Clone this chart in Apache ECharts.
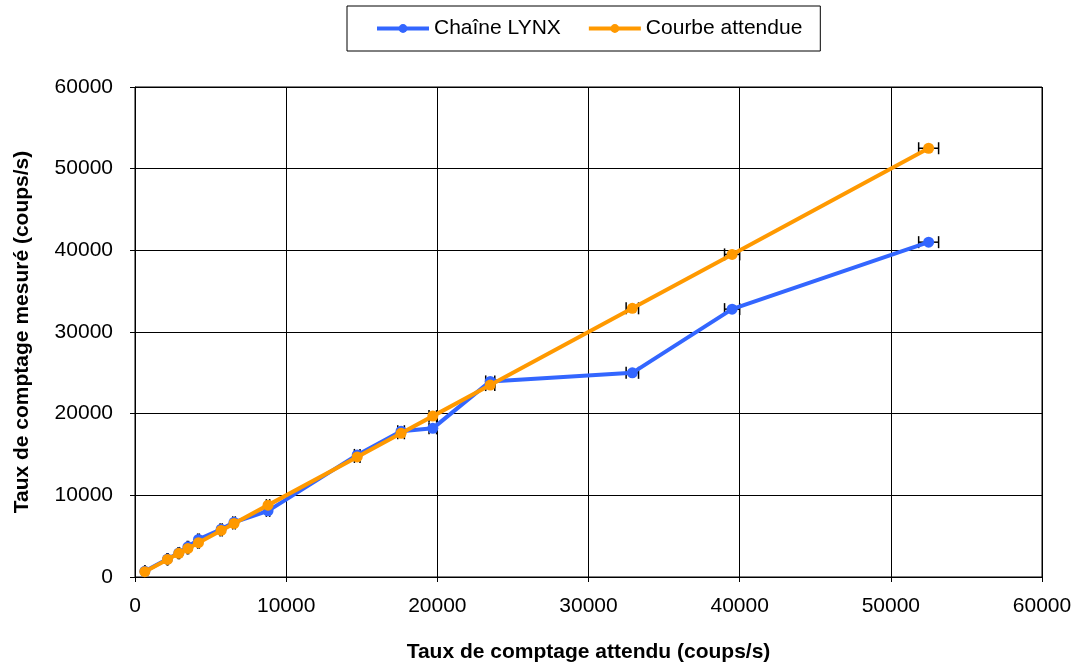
<!DOCTYPE html>
<html>
<head>
<meta charset="utf-8">
<script src="https://cdn.jsdelivr.net/npm/echarts@6/dist/echarts.min.js"></script>
<style>
html,body{margin:0;padding:0;background:#fff;}
#chart{width:1081px;height:666px;}
</style>
</head>
<body>
<div id="chart"></div>
<script>
// Expected count rate (x), shared by both series
const expectedRate = [650, 2150, 2900, 3500, 4200, 5700, 6550, 8800, 14700, 17600, 19700, 23500, 32900, 39500, 52500];
// Measured rates
const lynxRate = [700, 2200, 2950, 3700, 4600, 5850, 6700, 8100, 14950, 17850, 18200, 23950, 25000, 32800, 41000];
const expectedCurve = [650, 2150, 2900, 3500, 4200, 5700, 6550, 8800, 14700, 17600, 19700, 23500, 32900, 39500, 52500];
// Horizontal error on the expected rate
const xError = [10, 30, 40, 45, 55, 70, 85, 110, 185, 220, 250, 300, 410, 500, 660];
const seriesNames = ['Chaîne LYNX', 'Courbe attendue'];
const axisTicks = [0, 10000, 20000, 30000, 40000, 50000, 60000];

const font = '"Liberation Sans", Arial, sans-serif';

function pairs(ys) { return expectedRate.map((x, i) => [x, ys[i]]); }
function errData(ys) { return expectedRate.map((x, i) => [x, ys[i], xError[i]]); }

function errRender(params, api) {
  const x = api.value(0), y = api.value(1), e = api.value(2);
  const p1 = api.coord([x - e, y]);
  const p2 = api.coord([x + e, y]);
  const cap = 6;
  const style = { stroke: '#000', lineWidth: 1.5 };
  return {
    type: 'group',
    children: [
      { type: 'line', shape: { x1: p1[0], y1: p1[1], x2: p2[0], y2: p2[1] }, style },
      { type: 'line', shape: { x1: p1[0], y1: p1[1] - cap, x2: p1[0], y2: p1[1] + cap }, style },
      { type: 'line', shape: { x1: p2[0], y1: p2[1] - cap, x2: p2[0], y2: p2[1] + cap }, style }
    ]
  };
}

const chart = echarts.init(document.getElementById('chart'), null, { renderer: 'canvas' });
const axisCommon = {
  type: 'value',
  min: axisTicks[0],
  max: axisTicks[axisTicks.length - 1],
  interval: axisTicks[1] - axisTicks[0],
  axisLine: { show: true, lineStyle: { color: '#000', width: 1 } },
  axisTick: { show: true, length: 5, lineStyle: { color: '#000' } },
  splitLine: { show: true, lineStyle: { color: '#000', width: 1 } },
  axisLabel: { color: '#000', fontSize: 21, fontFamily: font, formatter: v => String(v) },
  nameLocation: 'middle',
  nameTextStyle: { color: '#000', fontSize: 21, fontWeight: 'bold', fontFamily: font }
};

chart.setOption({
  animation: false,
  backgroundColor: '#fff',
  grid: { left: 135, right: 39, top: 87, bottom: 89, show: true, borderColor: '#000', borderWidth: 1, containLabel: false, outerBoundsMode: 'none' },
  legend: {
    data: seriesNames,
    left: 347, top: 6,
    borderColor: '#000', borderWidth: 1,
    padding: [12, 18, 12, 28],
    itemGap: 26,
    itemWidth: 52, itemHeight: 11,
    lineStyle: { width: 4 },
    textStyle: { color: '#000', fontSize: 21, fontFamily: font }
  },
  xAxis: Object.assign({}, axisCommon, {
    name: 'Taux de comptage attendu (coups/s)',
    nameGap: 65,
    axisLabel: Object.assign({}, axisCommon.axisLabel, { margin: 19 })
  }),
  yAxis: Object.assign({}, axisCommon, {
    name: 'Taux de comptage mesuré (coups/s)',
    nameGap: 102,
    axisLabel: Object.assign({}, axisCommon.axisLabel, { margin: 22 })
  }),
  series: [
    { type: 'custom', renderItem: errRender, data: errData(lynxRate), z: 1, silent: true },
    { type: 'custom', renderItem: errRender, data: errData(expectedCurve), z: 1, silent: true },
    {
      name: seriesNames[0], type: 'line', data: pairs(lynxRate), z: 3,
      symbol: 'circle', symbolSize: 11, showAllSymbol: true,
      color: '#3366FF',
      lineStyle: { width: 4, color: '#3366FF' },
      itemStyle: { color: '#3366FF' }
    },
    {
      name: seriesNames[1], type: 'line', data: pairs(expectedCurve), z: 4,
      symbol: 'circle', symbolSize: 11, showAllSymbol: true,
      color: '#FF9900',
      lineStyle: { width: 4, color: '#FF9900' },
      itemStyle: { color: '#FF9900' }
    }
  ]
});
</script>
</body>
</html>
